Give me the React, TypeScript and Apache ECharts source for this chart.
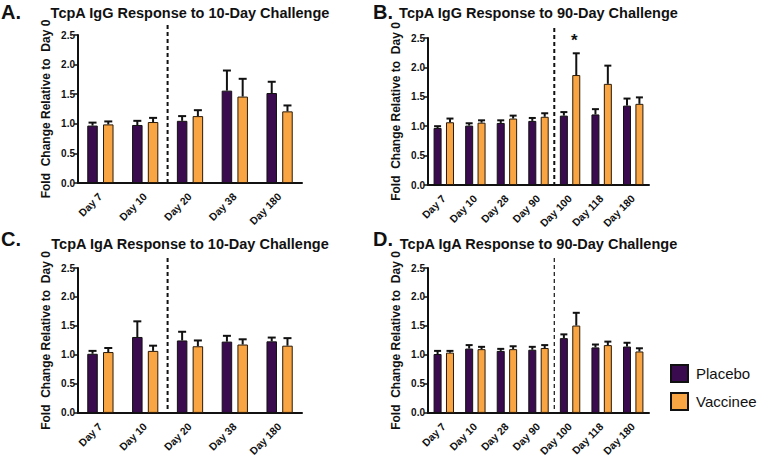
import React, { useEffect, useRef } from "react";
import * as echarts from "echarts";

// ---- Data ----
const cats10 = ["Day 7", "Day 10", "Day 20", "Day 38", "Day 180"];
const cats90 = ["Day 7", "Day 10", "Day 28", "Day 90", "Day 100", "Day 118", "Day 180"];

// A: TcpA IgG, 10-day challenge
const placeboA = [0.97, 0.98, 1.05, 1.56, 1.52];
const placeboASem = [0.05, 0.07, 0.08, 0.34, 0.19];
const vaccineeA = [0.99, 1.03, 1.13, 1.46, 1.21];
const vaccineeASem = [0.05, 0.07, 0.1, 0.3, 0.1];

// B: TcpA IgG, 90-day challenge
const placeboB = [0.97, 1.01, 1.055, 1.09, 1.18, 1.2, 1.35];
const placeboBSem = [0.03, 0.04, 0.045, 0.05, 0.06, 0.09, 0.12];
const vaccineeB = [1.067, 1.06, 1.13, 1.16, 1.87, 1.72, 1.38];
const vaccineeBSem = [0.063, 0.04, 0.05, 0.06, 0.37, 0.31, 0.11];
const significanceB = ["", "", "", "", "*", "", ""];

// C: TcpA IgA, 10-day challenge
const placeboC = [1.02, 1.31, 1.25, 1.23, 1.235];
const placeboCSem = [0.05, 0.27, 0.15, 0.1, 0.065];
const vaccineeC = [1.05, 1.07, 1.15, 1.18, 1.16];
const vaccineeCSem = [0.07, 0.09, 0.1, 0.09, 0.13];

// D: TcpA IgA, 90-day challenge
const placeboD = [1.016, 1.11, 1.07, 1.09, 1.29, 1.13, 1.145];
const placeboDSem = [0.054, 0.06, 0.035, 0.05, 0.065, 0.05, 0.065];
const vaccineeD = [1.04, 1.1, 1.1, 1.12, 1.507, 1.17, 1.06];
const vaccineeDSem = [0.03, 0.04, 0.05, 0.05, 0.22, 0.06, 0.055];

const yTicks = [0, 0.5, 1.0, 1.5, 2.0, 2.5];
const seriesNames = ["Placebo", "Vaccinee"];
const titles = [
  "TcpA IgG Response to 10-Day Challenge",
  "TcpA IgG Response to 90-Day Challenge",
  "TcpA IgA Response to 10-Day Challenge",
  "TcpA IgA Response to 90-Day Challenge",
];
const panelLetters = ["A.", "B.", "C.", "D."];
const dividerAfter = [1, 3, 1, 3]; // index of last pre-challenge category
const yName = "Fold  Change Relative to  Day 0";

// ---- Style ----
const FONT = "'Liberation Sans', Arial, Helvetica, sans-serif";
const PURPLE = "#3b0b4f";
const ORANGE = "#f9a543";
const INK = "#111111";

const panels = [
  { cats: cats10, p: placeboA, ps: placeboASem, v: vaccineeA, vs: vaccineeASem, grid: { left: 78, top: 35, width: 224, height: 148 }, barW: 10.5, gap: 0.5, cap: 8, dashW: 2 },
  { cats: cats90, p: placeboB, ps: placeboBSem, v: vaccineeB, vs: vaccineeBSem, grid: { left: 428, top: 38, width: 221, height: 147 }, barW: 8, gap: 0.55, cap: 7, dashW: 2 },
  { cats: cats10, p: placeboC, ps: placeboCSem, v: vaccineeC, vs: vaccineeCSem, grid: { left: 78, top: 268, width: 224, height: 148 }, barW: 10.5, gap: 0.5, cap: 8, dashW: 2 },
  { cats: cats90, p: placeboD, ps: placeboDSem, v: vaccineeD, vs: vaccineeDSem, grid: { left: 428, top: 268, width: 221, height: 148 }, barW: 8, gap: 0.55, cap: 7, dashW: 1.2 },
];

function errorSeries(k: number, values: number[], sem: number[], offset: number, cap: number) {
  return {
    type: "custom",
    xAxisIndex: k,
    yAxisIndex: k,
    z: 3,
    silent: true,
    encode: { x: 0, y: [1, 2] },
    data: values.map((v, i) => [i, v, v + sem[i]]),
    renderItem: (params: any, api: any) => {
      const i = api.value(0);
      const base = api.coord([i, api.value(1)]);
      const top = api.coord([i, api.value(2)]);
      const x = base[0] + offset;
      return {
        type: "group",
        children: [
          { type: "line", shape: { x1: x, y1: base[1], x2: x, y2: top[1] }, style: { stroke: INK, lineWidth: 2 } },
          { type: "line", shape: { x1: x - cap / 2, y1: top[1], x2: x + cap / 2, y2: top[1] }, style: { stroke: INK, lineWidth: 2 } },
        ],
      };
    },
  };
}

function buildOption() {
  const grid: any[] = [];
  const xAxis: any[] = [];
  const yAxis: any[] = [];
  const series: any[] = [];
  const title: any[] = [];

  panels.forEach((pn, k) => {
    grid.push({ ...pn.grid });
    xAxis.push({
      type: "category",
      gridIndex: k,
      data: pn.cats,
      axisLine: { lineStyle: { color: INK, width: 2 } },
      axisTick: { alignWithLabel: true, length: 4, lineStyle: { color: INK, width: 1.5 } },
      axisLabel: { rotate: 45, interval: 0, margin: 12, color: INK, fontSize: 10.5, fontWeight: "bold", fontFamily: FONT },
      splitLine: { show: false },
    });
    yAxis.push({
      type: "value",
      gridIndex: k,
      min: yTicks[0],
      max: yTicks[yTicks.length - 1],
      interval: 0.5,
      axisLine: { show: true, lineStyle: { color: INK, width: 2 } },
      axisTick: { show: true, length: 4, lineStyle: { color: INK, width: 1.5 } },
      axisLabel: { formatter: (v: number) => v.toFixed(1), margin: 3, color: INK, fontSize: 10, fontWeight: "bold", fontFamily: FONT },
      splitLine: { show: false },
      name: yName,
      nameLocation: "middle",
      nameGap: 26,
      nameTextStyle: { color: INK, fontSize: 12, fontWeight: "bold", fontFamily: FONT },
    });
    const barCommon = {
      type: "bar",
      xAxisIndex: k,
      yAxisIndex: k,
      barWidth: pn.barW,
      barGap: `${pn.gap * 100}%`,
      silent: true,
    };
    series.push({ ...barCommon, name: seriesNames[0], data: pn.p, itemStyle: { color: PURPLE, borderColor: INK, borderWidth: 1 } });
    series.push({ ...barCommon, name: seriesNames[1], data: pn.v, itemStyle: { color: ORANGE, borderColor: "#2a1a08", borderWidth: 1 } });
    const off = (pn.barW * (1 + pn.gap)) / 2;
    series.push(errorSeries(k, pn.p, pn.ps, -off, pn.cap));
    series.push(errorSeries(k, pn.v, pn.vs, off, pn.cap));
    // challenge divider
    series.push({
      type: "custom",
      xAxisIndex: k,
      yAxisIndex: k,
      silent: true,
      z: 4,
      encode: { x: 0, y: 1 },
      data: [[dividerAfter[k], 0]],
      renderItem: (params: any, api: any) => {
        const bw = api.size([1, 0])[0];
        const b = api.coord([api.value(0), 0]);
        const t = api.coord([api.value(0), yTicks[yTicks.length - 1]]);
        const x = b[0] + bw / 2;
        return {
          type: "line",
          shape: { x1: x, y1: t[1] - 10, x2: x, y2: b[1] },
          style: { stroke: INK, lineWidth: pn.dashW, lineDash: [4, 3] },
        };
      },
    });
    const cx = pn.grid.left + pn.grid.width / 2;
    title.push({
      text: titles[k],
      left: cx,
      top: k < 2 ? 5 : 236,
      textAlign: "center",
      textStyle: { color: INK, fontSize: 14.5, fontWeight: "bold", fontFamily: FONT },
      padding: 0,
    });
    title.push({
      text: panelLetters[k],
      left: k % 2 === 0 ? 1 : 373,
      top: k < 2 ? 2 : 229,
      textStyle: { color: INK, fontSize: 20, fontWeight: "bold", fontFamily: FONT },
      padding: 0,
    });
  });

  // significance marker (panel B)
  const pB = panels[1];
  const offB = (pB.barW * (1 + pB.gap)) / 2;
  series.push({
    type: "custom",
    xAxisIndex: 1,
    yAxisIndex: 1,
    silent: true,
    z: 5,
    encode: { x: 0, y: 1 },
    data: significanceB
      .map((s, i) => (s ? [i, vaccineeB[i] + vaccineeBSem[i], s] : null))
      .filter((d) => d !== null),
    renderItem: (params: any, api: any) => {
      const p = api.coord([api.value(0), api.value(1)]);
      return {
        type: "text",
        x: p[0] + offB - 2,
        y: p[1] - 4,
        style: {
          text: significanceB[api.value(0)],
          fill: INK,
          fontSize: 17,
          fontWeight: "bold",
          fontFamily: FONT,
          align: "center",
          verticalAlign: "bottom",
        },
      };
    },
  });

  return {
    animation: false,
    backgroundColor: "#ffffff",
    textStyle: { fontFamily: FONT },
    title,
    grid,
    xAxis,
    yAxis,
    series,
    legend: {
      data: seriesNames,
      orient: "vertical",
      left: 670,
      top: 364,
      padding: 0,
      icon: "rect",
      itemWidth: 17,
      itemHeight: 17,
      itemGap: 9,
      selectedMode: false,
      itemStyle: { borderColor: INK, borderWidth: 2 },
      textStyle: { color: INK, fontSize: 15, fontFamily: FONT, padding: [0, 0, 0, 3] },
    },
  };
}

export default function App() {
  const ref = useRef<HTMLDivElement>(null);
  useEffect(() => {
    if (!ref.current) return;
    const chart = echarts.init(ref.current, undefined, { renderer: "svg" });
    chart.setOption(buildOption() as any);
    return () => chart.dispose();
  }, []);
  return (
    <div
      ref={ref}
      style={{ position: "fixed", left: 0, top: 0, width: 760, height: 459, background: "#fff" }}
    />
  );
}
